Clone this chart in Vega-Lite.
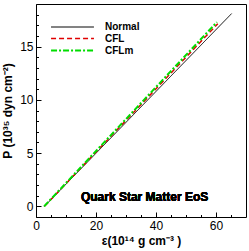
{
  "$schema": "https://vega.github.io/schema/vega-lite/v6.json",
  "width": 210,
  "height": 213,
  "autosize": {"type": "none"},
  "padding": {"left": 36, "top": 4, "right": 3, "bottom": 34},
  "config": {
    "font": "Liberation Sans",
    "view": {"stroke": "#000000", "strokeWidth": 1},
    "axis": {"grid": false, "domain": false, "labelFont": "Liberation Sans", "labelFontSize": 12, "labelColor": "#000000", "tickColor": "#000000", "titleFont": "Liberation Sans", "titleFontSize": 12, "titleFontWeight": "bold", "titleColor": "#000000", "labelOverlap": false, "labelFlush": false}
  },
  "data": {"values": [
    {"eps": 2.8, "P": 0, "series": "Normal"},
    {"eps": 65.2, "P": 18.1, "series": "Normal"},
    {"eps": 2.8, "P": 0, "series": "CFL"},
    {"eps": 60.6, "P": 17.15, "series": "CFL"},
    {"eps": 2.7, "P": 0, "series": "CFLm"},
    {"eps": 60.3, "P": 17.3, "series": "CFLm"}
  ]},
  "resolve": {"axis": {"x": "independent", "y": "independent"}},
  "layer": [
    {
      "mark": {"type": "line", "clip": true},
      "encoding": {
        "x": {"field": "eps", "type": "quantitative", "scale": {"domain": [0, 70], "nice": false, "zero": false},
          "axis": {"orient": "bottom", "title": "ε(10¹⁴ g cm⁻³ )", "values": [0, 20, 40, 60], "tickSize": -5, "labelPadding": 8, "titlePadding": 4}},
        "y": {"field": "P", "type": "quantitative", "scale": {"domain": [-1, 19], "nice": false, "zero": false},
          "axis": {"orient": "left", "title": "P (10³⁵ dyn cm⁻²)", "values": [0, 5, 10, 15], "tickSize": -5, "labelPadding": 8, "titlePadding": 5}},
        "color": {"field": "series", "type": "nominal", "scale": {"domain": ["Normal", "CFL", "CFLm"], "range": ["#000000", "#e00000", "#00dd00"]},
          "legend": {"title": null, "orient": "none", "legendX": 30, "legendY": 17, "symbolType": "M-4,0H4", "symbolSize": 115, "symbolStrokeWidth": 2, "symbolFillColor": "transparent", "labelFont": "Liberation Sans", "labelFontSize": 10, "labelFontWeight": "bold", "labelColor": "#000000", "rowPadding": 0, "labelOffset": 26, "padding": 0}},
        "strokeDash": {"field": "series", "type": "nominal", "scale": {"domain": ["Normal", "CFL", "CFLm"], "range": [[1, 0], [5, 3], [6, 2, 2, 2]]}, "legend": null},
        "strokeWidth": {"field": "series", "type": "nominal", "scale": {"domain": ["Normal", "CFL", "CFLm"], "range": [1, 2, 2]}, "legend": null}
      }
    },
    {
      "mark": {"type": "text", "font": "Liberation Sans", "fontSize": 12, "fontWeight": "bold", "color": "#000000", "align": "center", "baseline": "middle"},
      "encoding": {
        "x": {"datum": 36.2, "type": "quantitative", "axis": {"orient": "bottom", "title": null, "labels": false, "values": [5, 10, 15, 25, 30, 35, 45, 50, 55, 65], "tickSize": -2.5}},
        "y": {"datum": 0.86, "type": "quantitative", "axis": {"orient": "left", "title": null, "labels": false, "values": [-1, 1, 2, 3, 4, 6, 7, 8, 9, 11, 12, 13, 14, 16, 17, 18, 19], "tickSize": -2.5}},
        "text": {"value": "Quark Star Matter EoS"}
      }
    }
  ]
}
